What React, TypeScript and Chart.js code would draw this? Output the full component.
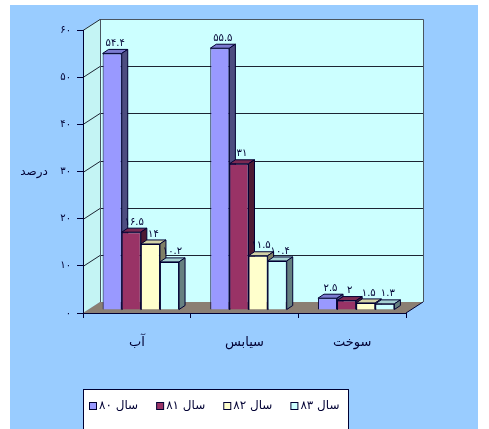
import { useEffect, useRef } from 'react';
import { Chart, registerables } from 'chart.js';

Chart.register(...registerables);

// Categories and series
const categories = ['آب', 'سیابس', 'سوخت'];
const seriesNames = ['سال ۸۰', 'سال ۸۱', 'سال ۸۲', 'سال ۸۳'];
const year80 = [54.4, 55.5, 2.5];
const year81 = [16.5, 31, 2];
const year82 = [14, 11.5, 1.5];
const year83 = [10.2, 10.4, 1.3];
const seriesValues = [year80, year81, year82, year83];

// Value axis
const yMin = 0;
const yMax = 60;
const yStep = 10;
const yTitle = 'درصد';

// Styling
const frontColors = ['#9999ff', '#993366', '#ffffcc', '#ccffff'];
const topColors = ['#7b7bd0', '#7a2952', '#d2d2a6', '#a6d2d2'];
const sideColors = ['#4d4d80', '#4d1a33', '#808066', '#668080'];
const ink = '#000033';
const persianFont = "'DejaVu Sans', sans-serif";

// 3D geometry
const WALL_DX = 17;
const WALL_DY = -11;
const ROW_DX = 4;
const ROW_DY = -3;
const BAR_DX = 6;
const BAR_DY = -4;

const toFa = (v: number) =>
  String(v).replace(/\d/g, (d) => '۰۱۲۳۴۵۶۷۸۹'[Number(d)]);

function poly(ctx: CanvasRenderingContext2D, pts: number[][], fill?: string, stroke?: string) {
  ctx.beginPath();
  ctx.moveTo(pts[0][0], pts[0][1]);
  for (let i = 1; i < pts.length; i++) ctx.lineTo(pts[i][0], pts[i][1]);
  ctx.closePath();
  if (fill) {
    ctx.fillStyle = fill;
    ctx.fill();
  }
  if (stroke) {
    ctx.strokeStyle = stroke;
    ctx.lineWidth = 1;
    ctx.stroke();
  }
}

const scenePlugin = {
  id: 'scene3d',
  beforeDraw(chart: any) {
    const { ctx, chartArea: a, scales } = chart;
    const L = a.left, R = a.right, T = a.top, B = a.bottom;
    ctx.save();
    ctx.fillStyle = '#99ccff';
    ctx.fillRect(0, 0, chart.width, chart.height);

    // back wall, side wall and floor
    poly(ctx, [[L + WALL_DX, T + WALL_DY], [R + WALL_DX, T + WALL_DY], [R + WALL_DX, B + WALL_DY], [L + WALL_DX, B + WALL_DY]], '#ccffff');
    poly(ctx, [[L, T], [L + WALL_DX, T + WALL_DY], [L + WALL_DX, B + WALL_DY], [L, B]], '#c4f4f4');
    poly(ctx, [[L, B], [L + WALL_DX, B + WALL_DY], [R + WALL_DX, B + WALL_DY], [R, B]], '#8b7f73');

    // gridlines running along both walls
    ctx.strokeStyle = '#1c2433';
    ctx.lineWidth = 1;
    for (let v = yMin + yStep; v <= yMax; v += yStep) {
      const y = Math.round(scales.y.getPixelForValue(v)) + 0.5;
      ctx.beginPath();
      ctx.moveTo(L, y);
      ctx.lineTo(L + WALL_DX, y + WALL_DY);
      ctx.lineTo(R + WALL_DX, y + WALL_DY);
      ctx.stroke();
    }
    // wall outlines
    ctx.strokeStyle = '#4a5560';
    ctx.beginPath();
    ctx.moveTo(L + WALL_DX + 0.5, B + WALL_DY);
    ctx.lineTo(L + WALL_DX + 0.5, T + WALL_DY + 0.5);
    ctx.lineTo(R + WALL_DX + 0.5, T + WALL_DY + 0.5);
    ctx.lineTo(R + WALL_DX + 0.5, B + WALL_DY);
    ctx.stroke();
    ctx.strokeStyle = ink;
    ctx.beginPath();
    ctx.moveTo(R, B);
    ctx.lineTo(R + WALL_DX, B + WALL_DY);
    ctx.stroke();
    ctx.restore();
  },
  beforeDatasetsDraw(chart: any) {
    const { ctx, chartArea } = chart;
    ctx.save();
    ctx.translate(ROW_DX, ROW_DY);
    for (let i = 0; i < chart.data.datasets.length; i++) {
      const meta = chart.getDatasetMeta(i);
      meta.data.forEach((bar: any) => {
        const { x, y, base, width } = bar.getProps(['x', 'y', 'base', 'width'], true);
        const l = x - width / 2;
        const r = x + width / 2;
        bar.draw(ctx, chartArea);
        poly(ctx, [[l, y], [l + BAR_DX, y + BAR_DY], [r + BAR_DX, y + BAR_DY], [r, y]], topColors[i], ink);
        poly(ctx, [[r, y], [r + BAR_DX, y + BAR_DY], [r + BAR_DX, base + BAR_DY], [r, base]], sideColors[i], ink);
      });
    }
    // value labels above each bar
    ctx.fillStyle = ink;
    ctx.font = `10px ${persianFont}`;
    ctx.textAlign = 'center';
    ctx.textBaseline = 'bottom';
    for (let i = 0; i < chart.data.datasets.length; i++) {
      const meta = chart.getDatasetMeta(i);
      meta.data.forEach((bar: any, j: number) => {
        const { x, y } = bar.getProps(['x', 'y'], true);
        ctx.fillText(toFa(seriesValues[i][j]), x + BAR_DX / 2, y + BAR_DY - 1);
      });
    }
    ctx.restore();
    return false;
  },
  afterDraw(chart: any) {
    const { ctx, scales } = chart;
    ctx.save();
    // value axis title
    ctx.fillStyle = ink;
    ctx.font = `12px ${persianFont}`;
    ctx.textAlign = 'center';
    ctx.textBaseline = 'middle';
    ctx.fillText(yTitle, 24, scales.y.getPixelForValue(30));

    // legend
    const bx = 73, by = 384;
    ctx.fillStyle = '#ffffff';
    ctx.fillRect(bx, by, 265, 60);
    ctx.strokeStyle = ink;
    ctx.lineWidth = 1;
    ctx.strokeRect(bx + 0.5, by + 0.5, 265, 60);
    ctx.font = `12px ${persianFont}`;
    ctx.textAlign = 'left';
    ctx.textBaseline = 'middle';
    let x = bx + 6;
    const cy = by + 17;
    seriesNames.forEach((name, i) => {
      ctx.fillStyle = frontColors[i];
      ctx.fillRect(x + 0.5, cy - 3.5, 7, 7);
      ctx.strokeStyle = ink;
      ctx.strokeRect(x + 0.5, cy - 3.5, 7, 7);
      ctx.fillStyle = ink;
      ctx.fillText(name, x + 10, cy);
      x += 10 + ctx.measureText(name).width + 18;
    });
    ctx.restore();
  },
};

export default function App() {
  const ref = useRef<HTMLCanvasElement>(null);
  useEffect(() => {
    const canvas = ref.current;
    if (!canvas) return;
    const chart = new Chart(canvas, {
      type: 'bar',
      data: {
        labels: categories,
        datasets: seriesNames.map((name, i) => ({
          label: name,
          data: seriesValues[i],
          backgroundColor: frontColors[i],
          borderColor: ink,
          borderWidth: 1,
          categoryPercentage: 0.71,
          barPercentage: 1,
        })),
      },
      options: {
        responsive: false,
        maintainAspectRatio: false,
        animation: false,
        layout: { padding: { left: 10, top: 25, right: 72, bottom: 76 } },
        plugins: {
          legend: { display: false },
          tooltip: { enabled: false },
        },
        scales: {
          x: {
            grid: { drawOnChartArea: false, drawTicks: true, tickLength: 5, color: ink, offset: true },
            border: { color: ink, width: 1 },
            ticks: { color: ink, padding: 17, font: { family: persianFont, size: 13 } },
            afterFit: (s: any) => {
              s.height = 40;
            },
          },
          y: {
            min: yMin,
            max: yMax,
            grid: { drawOnChartArea: false, drawTicks: true, tickLength: 6, color: ink },
            border: { color: ink, width: 1 },
            ticks: {
              stepSize: yStep,
              color: ink,
              padding: 6,
              font: { family: persianFont, size: 10 },
              callback: (v: any) => toFa(Number(v)),
            },
            afterFit: (s: any) => {
              s.width = 63;
            },
          },
        },
      },
      plugins: [scenePlugin],
    } as any);
    return () => chart.destroy();
  }, []);

  return (
    <div style={{ position: 'absolute', left: 10, top: 5, width: 468, height: 424 }}>
      <canvas ref={ref} width={468} height={424} style={{ display: 'block', width: 468, height: 424 }} />
    </div>
  );
}
